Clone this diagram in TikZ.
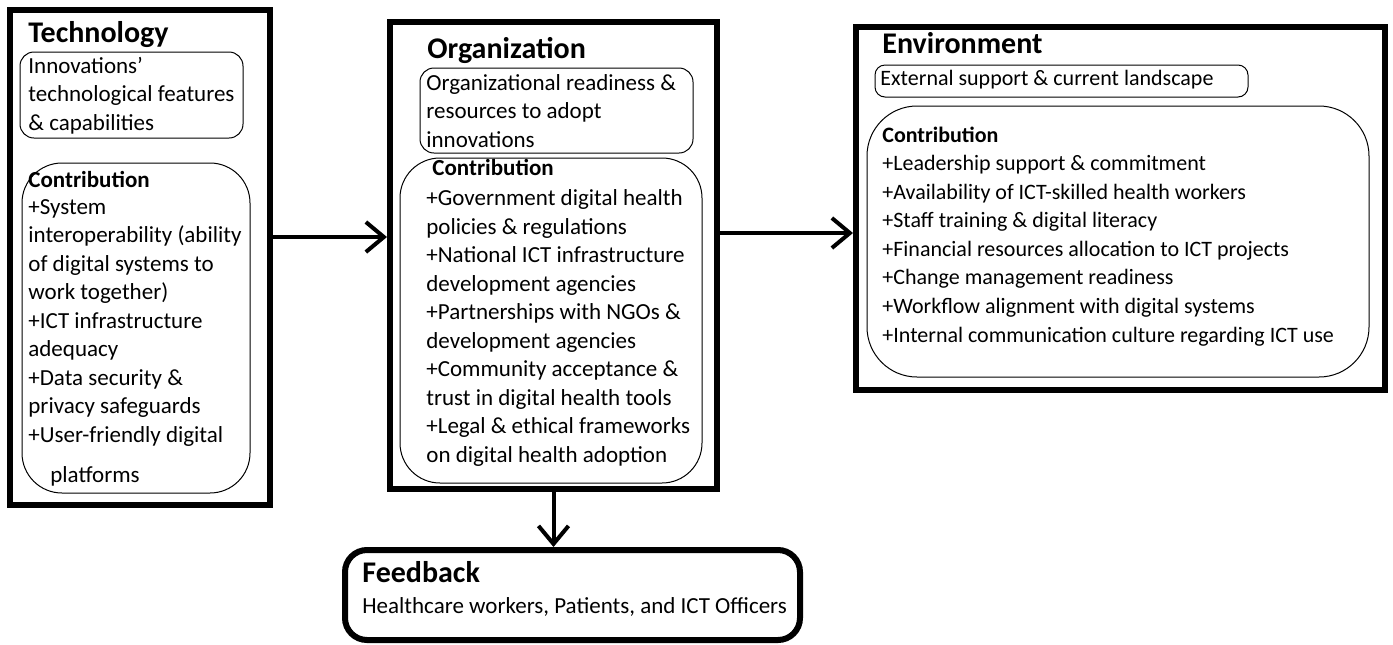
\documentclass[tikz,border=0pt]{standalone}
\usepackage{fontspec}
\setmainfont{Carlito}
\usetikzlibrary{arrows.meta}

\tikzset{
  outerbox/.style={draw, line width=3pt, minimum width=#1, inner sep=0pt},
  innerbox/.style={draw, line width=0.5pt, rounded corners=#1, inner sep=0pt},
  ttl/.style={anchor=base west, inner sep=0pt, font=\bfseries\fontsize{15}{18}\selectfont},
  txt/.style={anchor=base west, inner sep=0pt, align=left, font=\fontsize{11.5}{14.25}\selectfont},
  arr/.style={line width=2pt, -{Straight Barb[length=9pt,width=15pt]}}
}

\begin{document}
\begin{tikzpicture}[x=0.5pt, y=-0.5pt]
		\useasboundingbox (0,0) rectangle (1393,644);
		% the three big boxes
		\node[outerbox=130pt, minimum height=247.5pt] (tech) at (140,257.5) {};
		\node[outerbox=163.5pt, minimum height=233.5pt] (org) at (553.5,255.5) {};
		\node[outerbox=264.5pt, minimum height=181.5pt] (env) at (1120.5,208.5) {};
		\node[draw, line width=3pt, rounded corners=11pt, minimum width=227.5pt, minimum height=45pt] (fb) at (572.5,595) {};
		
		% rounded boxes inside
		\node[innerbox=7pt, minimum width=111.5pt, minimum height=43pt] (techA) at (131.5,95) {};
		\node[innerbox=20pt, minimum width=114pt, minimum height=165pt] (techB) at (136,328) {};
		\node[innerbox=7pt, minimum width=136.5pt, minimum height=42.5pt] (orgA) at (556.5,110.5) {};
		\node[innerbox=20pt, minimum width=151pt, minimum height=162.5pt] (orgB) at (551,320.5) {};
		\node[innerbox=5pt, minimum width=186.5pt, minimum height=16pt] (envA) at (1061.5,81) {};
		\node[innerbox=25pt, minimum width=251pt, minimum height=135.5pt] (envB) at (1118,241.5) {};
		
		% Technology (multi-line texts sit on their last baseline)
		\node[ttl] (techT) at (28,42) {Technology};
		\node[txt] (techA1) at (28,130) {Innovations\symbol{39}\\technological features\\\& capabilities};
		\node[ttl, font=\bfseries\fontsize{11.5}{14.25}\selectfont] (techC) at (28,187) {Contribution};
		\node[txt] (techB1) at (28,442) {+System\\interoperability (ability\\of digital systems to\\work together)\\+ICT infrastructure\\adequacy\\+Data security \&\\privacy safeguards\\+User-friendly digital};
		\node[txt] (techB2) at (50,482) {platforms};
		
		% Organization
		\node[ttl] (orgT) at (427,58) {Organization};
		\node[txt] (orgA1) at (426,147) {Organizational readiness \&\\resources to adopt\\innovations};
		\node[ttl, font=\bfseries\fontsize{11.5}{14.25}\selectfont] (orgC) at (432,175) {Contribution};
		\node[txt] (orgB1) at (426,462) {+Government digital health\\policies \& regulations\\+National ICT infrastructure\\development agencies\\+Partnerships with NGOs \&\\development agencies\\+Community acceptance \&\\trust in digital health tools\\+Legal \& ethical frameworks\\on digital health adoption};
		
		% Environment
		\node[ttl] (envT) at (882,53) {Environment};
		\node[txt, font=\fontsize{11}{14.3}\selectfont] (envA1) at (880,85) {External support \& current landscape};
		\node[ttl, font=\bfseries\fontsize{11}{14.3}\selectfont] (envC) at (882,142) {Contribution};
		\node[txt, font=\fontsize{11}{14.3}\selectfont] (envB1) at (882,342) {+Leadership support \& commitment\\+Availability of ICT-skilled health workers\\+Staff training \& digital literacy\\+Financial resources allocation to ICT projects\\+Change management readiness\\+Workflow alignment with digital systems\\+Internal communication culture regarding ICT use};
		
		% Feedback
		\node[ttl] (fbT) at (362,582) {Feedback};
		\node[txt] (fb1) at (362,613) {Healthcare workers, Patients, and ICT Officers};
		
		\coordinate (a1) at ([yshift=10.25pt]tech.east);
		\coordinate (a2) at ([yshift=11.25pt]org.east);
		\draw[arr] (a1)--(a1 -| org.west);
		\draw[arr] (a2)--(a2 -| env.west);
		\draw[arr] (org.south)--(org.south |- fb.north);
\end{tikzpicture}
\end{document}
